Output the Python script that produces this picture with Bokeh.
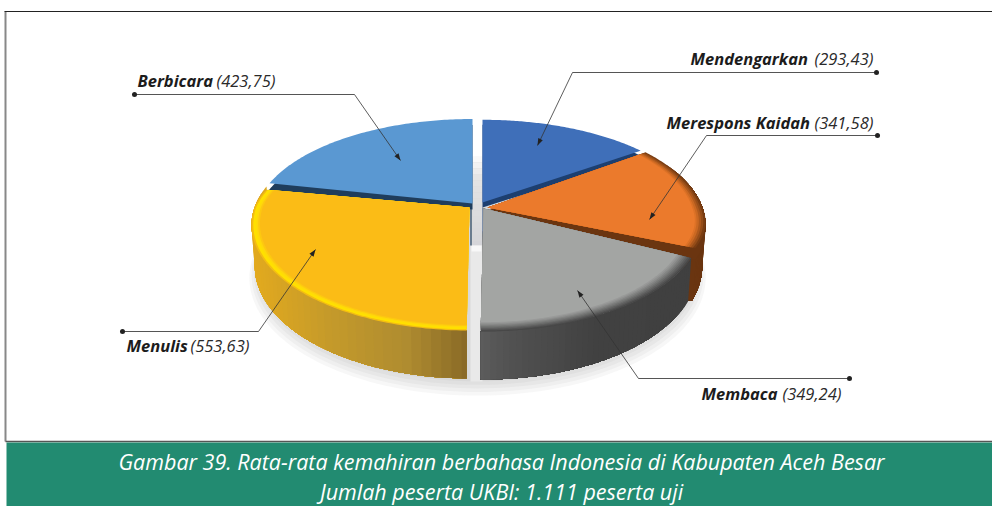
import numpy as np
from bokeh.plotting import figure
from bokeh.core.properties import value
from bokeh.embed import file_html
from bokeh.resources import INLINE

# ---- data
categories = ["Mendengarkan", "Merespons Kaidah", "Membaca", "Menulis", "Berbicara"]
scores = [293.43, 341.58, 349.24, 553.63, 423.75]
caption_lines = ["Gambar 39. Rata-rata kemahiran berbahasa Indonesia di Kabupaten Aceh Besar",
                 "Jumlah peserta UKBI: 1.111 peserta uji"]

# ---- style and layout (page pixels)
A, B, K, DEPTH = 215.0, 102.6, 0.166, 40.0
TOP_COLORS = ["#3F6FB9", "#EB7A2C", "#A3A5A3", "#FBBC16", "#5A98D2"]
UNDER_COLORS = ["#1D3F70", "#6B3510", None, None, "#1F3D5C"]
GEOM = [dict(ox=482, oy=202, bp=.94, bn=1, uy=5),
        dict(ox=487, oy=207, bp=1, bn=.82, uy=3),
        dict(ox=483, oy=208, bp=1, bn=1, uy=0),
        dict(ox=469, oy=207, bp=.85, bn=1, uy=0),
        dict(ox=472, oy=203, bp=.96, bn=1, uy=6)]
RIMS = [[], [(1.0, "#7A3D12"), (.99, "#944C18"), (.98, "#AE591D"), (.97, "#CA6822"), (.96, "#DD7227")],
        [(1.0, "#484848"), (.992, "#535353"), (.984, "#5F5F5F"), (.976, "#6B6C6B"), (.968, "#777877"),
         (.96, "#838483"), (.952, "#8F908F"), (.944, "#999A99")],
        [(1.0, "#F3BC12"), (.992, "#FFE000"), (.978, "#FFD80A"), (.97, "#FDC810")], []]
WALLS = [None,
         [(480, "#6A3510"), (720, "#6A3510")],
         [(482, "#5C5C5C"), (520, "#505050"), (600, "#414141"), (700, "#404040")],
         [(250, "#E3AA1E"), (320, "#C69B2A"), (400, "#AF8C30"), (467, "#866726")],
         None]
LABELS = [(690, 814, 58), (666, 814, 122), (701, 782, 393), (126, 190, 345), (137, 216, 80)]
LEADERS = [[(876, 72), (572, 72), (537, 145)],
           [(877, 135), (706, 135), (649, 219)],
           [(849, 378), (638, 378), (577, 290)],
           [(122, 331), (258, 331), (315, 249)],
           [(134, 94), (354, 94), (400, 160)]]
FONT = "Open Sans"


def hex2rgb(c):
    return np.array([int(c[i:i + 2], 16) for i in (1, 3, 5)], dtype=float)


def ramp(stops, x):
    xs = [s[0] for s in stops]
    rgb = [np.interp(x, xs, [hex2rgb(s[1])[i] for s in stops]) for i in range(3)]
    return "#%02x%02x%02x" % tuple(int(round(v)) for v in rgb)


def project(t, r, g, bp=None, bn=None, dy=0, z=False):
    X, Y = r * np.sin(t), r * np.cos(t)
    d = 1 + K * Y
    bp = g["bp"] if bp is None else bp
    bn = g["bn"] if bn is None else bn
    bs = np.where(Y >= 0, bp, bn)
    x = g["ox"] + A * X / d
    y = g["oy"] + dy - B * bs * Y / d
    if z:
        y = y + DEPTH / d
    return x, y


fractions = np.array(scores) / np.sum(scores)
edges = np.concatenate([[0], np.cumsum(fractions)]) * 2 * np.pi

p = figure(width=992, height=506, x_range=(0, 992), y_range=(506, 0),
           output_backend="svg", toolbar_location=None, min_border=0,
           background_fill_color="white", border_fill_color="white", outline_line_color=None)
p.axis.visible = False
p.grid.visible = False

# frame and caption band
p.line([5, 5], [11, 441], line_color="#888888", line_width=2)
p.line([4, 992], [11, 11], line_color="#222222", line_width=1.2)
p.line([5, 992], [441, 441], line_color="#555555", line_width=1.5)
p.quad(left=[6], right=[992], top=[442], bottom=[506], fill_color="#228B71", line_color=None)

# soft shadow under the whole pie
th = np.linspace(0, 2 * np.pi, 181)
flat = dict(ox=477, oy=207, bp=1, bn=1)
for grow, extra in [(1.045, 10), (1.035, 8), (1.025, 6), (1.015, 4), (1.005, 2)]:
    sx, sy = project(th, grow, flat, z=True)
    p.patch(sx, sy + extra, fill_color="#707070", fill_alpha=0.06, line_color=None)

# gap between the two halves
gy = np.arange(150, 246, 6)
p.quad(left=[472] * len(gy), right=[482] * len(gy), top=gy, bottom=gy + 6,
       fill_color=[ramp([(150, "#FFFFFF"), (175, "#E4E4E4"), (245, "#D4D4D8")], v) for v in gy],
       line_color=None)
p.quad(left=[470], right=[482], top=[245], bottom=[381], fill_color="#E9E9E9", line_color=None)
p.quad(left=[471], right=[481], top=[245], bottom=[251], fill_color="#F8F8F8", line_color=None)
p.line([470.5, 470.5], [207, 245], line_color="#1F3D5C", line_width=1.2)
p.line([482, 482], [207, 245], line_color="#7E8FA8", line_width=1)

# slices, back ones first
for i in [4, 0, 1, 2, 3]:
    t0, t1 = edges[i], edges[i + 1]
    g = GEOM[i]
    ts = np.linspace(t0, t1, 90)
    if WALLS[i]:
        # each step paints a shrinking run of the wall, so no seams show
        vis = ts[np.cos(ts) <= 0.45]
        xs, ys, cols = [], [], []
        if i == 3:
            runs = [vis[:k + 2] for k in range(len(vis) - 2, -1, -2)]
        else:
            runs = [vis[k:] for k in range(0, len(vis) - 1, 2)]
        for seg in runs:
            xt, yt = project(seg, 1, g, bp=1, bn=1)
            xb, yb = project(seg, 1, g, bp=1, bn=1, z=True)
            xb = g["ox"] + (xb - g["ox"]) * 0.985
            if i == 1:  # tuck the cut end of the wall behind the next slice
                px = np.r_[xt, xt[-1] - 14, xb[-1] - 14, xb[::-1]]
                py = np.r_[yt, yt[-1] + 6, yb[-1], yb[::-1]]
            else:
                px = np.r_[xt, xb[::-1]]
                py = np.r_[yt, yb[::-1]]
            xs.append(list(px))
            ys.append(list(py))
            cols.append(ramp(WALLS[i], xt[-1] if i == 3 else xt[0]))
        p.patches(xs, ys, fill_color=cols, line_color=None)
    if UNDER_COLORS[i]:
        # the dark cut face runs slightly under the neighbour that is painted later
        tu = np.linspace(t0 - 0.03, t1, 90) if i == 4 else (np.linspace(t0, t1 + 0.02, 90) if i == 0 else ts)
        ux, uy = project(tu, 1, g, dy=g["uy"], bn=1)
        p.patch(np.r_[g["ox"], ux], np.r_[g["oy"] + g["uy"], uy],
                fill_color=UNDER_COLORS[i], line_color=None)
    for r, col in RIMS[i]:
        rx, ry = project(ts, r, g)
        p.patch(np.r_[g["ox"], rx], np.r_[g["oy"], ry], fill_color=col, line_color=None)
    r_top = RIMS[i][-1][0] - 0.008 if RIMS[i] else 1
    tx, ty = project(ts, r_top, g)
    p.patch(np.r_[g["ox"], tx], np.r_[g["oy"], ty], fill_color=TOP_COLORS[i], line_color=None)

# leaders with their arrow heads
for pts in LEADERS:
    (x0, y0), (x1, y1), (x2, y2) = pts
    p.line([x0, x1], [y0, y1], line_color="#555555", line_width=1.1)
    p.line([x1, x2], [y1, y2], line_color="#333333", line_width=0.8)
    p.scatter([x0], [y0], size=5, marker="circle", fill_color="#222222", line_color=None)
    d = np.array([x2 - x1, y2 - y1], dtype=float)
    d /= np.hypot(*d)
    n = np.array([-d[1], d[0]])
    tip = np.array([x2, y2], dtype=float)
    back = tip - d * 7
    a, b = back + n * 2.5, back - n * 2.5
    p.patch([tip[0], a[0], b[0]], [tip[1], a[1], b[1]], fill_color="#222222", line_color=None)

# labels
for name, score, (xa, xb, yc) in zip(categories, scores, LABELS):
    p.text([xa], [yc], text=[name], text_font=value(FONT), text_font_style="bold italic",
           text_font_size="16.5px", text_color="#1c1c1c", text_align="left", text_baseline="middle")
    p.text([xb], [yc], text=[f"({score:.2f})".replace(".", ",")], text_font=value(FONT),
           text_font_style="italic", text_font_size="16.5px", text_color="#2a2a2a",
           text_align="left", text_baseline="middle")

for line, yc in zip(caption_lines, [461, 491]):
    p.text([501], [yc], text=[line], text_font=value(FONT), text_font_style="italic",
           text_font_size="21.5px", text_color="#ffffff", text_align="center", text_baseline="middle")

open("out.html", "w").write(file_html(p, INLINE))
